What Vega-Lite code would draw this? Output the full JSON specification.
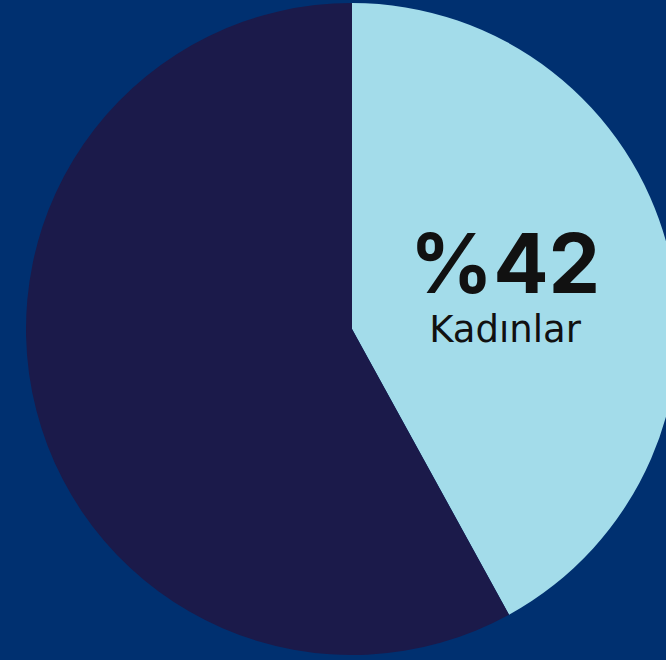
{
  "$schema": "https://vega.github.io/schema/vega-lite/v6.json",
  "autosize": {"type": "none"},
  "width": 628,
  "height": 658,
  "padding": {"left": 38, "right": 0, "top": 0, "bottom": 2},
  "background": "#003070",
  "config": {"view": {"stroke": null}},
  "data": {
    "values": [
      {"group": "Kadınlar", "value": 42, "order": 1, "label": "%42", "sub": "Kadınlar"},
      {"group": "Erkekler", "value": 58, "order": 2, "label": "", "sub": ""}
    ]
  },
  "encoding": {
    "theta": {"field": "value", "type": "quantitative", "stack": true},
    "order": {"field": "order", "type": "quantitative"}
  },
  "layer": [
    {
      "mark": {"type": "arc", "outerRadius": 326},
      "encoding": {
        "color": {
          "field": "group",
          "type": "nominal",
          "scale": {"domain": ["Kadınlar", "Erkekler"], "range": ["#a3dcea", "#1b1a4a"]},
          "legend": null
        }
      }
    },
    {
      "mark": {"type": "text", "radius": 158, "fontSize": 82, "fontWeight": "bold", "font": "Inter", "color": "#111111", "align": "center", "baseline": "alphabetic", "dy": 3},
      "encoding": {"text": {"field": "label"}}
    },
    {
      "mark": {"type": "text", "radius": 158, "fontSize": 37, "font": "DejaVu Sans", "color": "#111111", "align": "center", "baseline": "alphabetic", "dy": 52},
      "encoding": {"text": {"field": "sub"}}
    }
  ]
}
